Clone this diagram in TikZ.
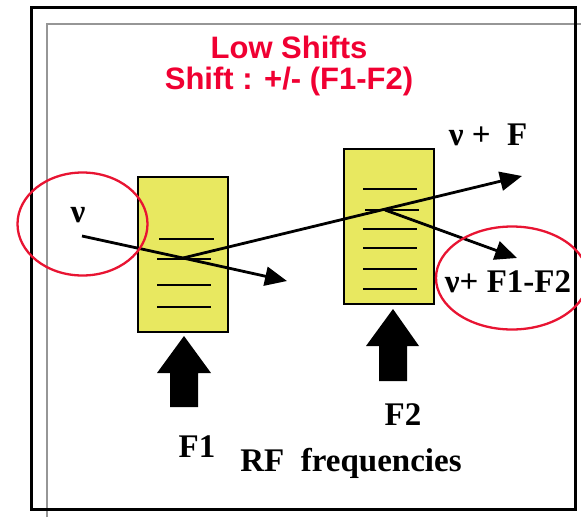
\documentclass[tikz,border=0pt]{standalone}
\usepackage{fontspec}
\setmainfont{Liberation Serif}
\newfontfamily\titlefont{Liberation Sans}
\usetikzlibrary{arrows.meta}
\definecolor{ttlred}{RGB}{240,0,50}
\definecolor{ringred}{RGB}{232,20,50}
\definecolor{boxyellow}{RGB}{232,232,96}
\definecolor{framegray}{RGB}{150,150,150}
\tikzset{
  filterbox/.style={draw=black, line width=2.2pt, fill=boxyellow},
  tickline/.style={line width=2.5pt},
  beam/.style={line width=2.8pt, -{Triangle[length=22pt,width=19pt]}},
  beamplain/.style={line width=2.8pt},
  ring/.style={draw=ringred, line width=2.3pt},
  fatarrow/.style={fill=black},
  lbl/.style={font=\bfseries\fontsize{33}{36}\selectfont, inner sep=0pt},
  ttl/.style={font=\titlefont\bfseries\fontsize{31}{36}\selectfont, text=ttlred, inner sep=0pt}
}
\begin{document}
\begin{tikzpicture}[x=1pt,y=-1pt]
\useasboundingbox (0,0) rectangle (581,517);
% frames
\draw[framegray, line width=2.6pt] (47,517) -- (47,24) -- (581,24);
\draw[black, line width=3pt] (31,7) rectangle (575,509);
% title
\node[ttl] (t1) at (289,47) {Low Shifts};
\node[ttl] (t2) at (289,81) {Shift : +/- (F1-F2)};
% boxes
\draw[filterbox] (138,177) rectangle (228,332);
\draw[filterbox] (344,149) rectangle (434,304);
\foreach \y/\a/\b in {239/159/214, 259/157/211, 285/157/211, 307/157/211}
  \draw[tickline] (\a,\y) -- (\b,\y);
\foreach \y/\a/\b in {189/363/417, 210/365/419, 229/363/417, 248/363/417, 269/363/417, 289/363/417}
  \draw[tickline] (\a,\y) -- (\b,\y);
% coordinates
\coordinate (nustart) at (82,236);
\coordinate (x1) at (183,258);
\coordinate (tip1) at (287,281);
\coordinate (x2) at (385,210);
\coordinate (tip2) at (522,176);
\coordinate (tip3) at (517,258);
% beams
\draw[beamplain] (nustart) -- (x1);
\draw[beam] (x1) -- (tip1);
\draw[beam] (x1) -- (tip2);
\draw[beam] (x2) -- (tip3);
% rings
\draw[ring] (82.5,224) ellipse [x radius=65, y radius=51.5];
\draw[ring] (512,278) ellipse [x radius=76, y radius=51.5];
% labels
\node[lbl] (nu) at (78,215) {ν};
\node[lbl] (nuF) at (488,135) {ν +\ \ F};
\node[lbl] (nuF12) at (508,282) {ν+ F1-F2};
\node[lbl] (f2) at (403,415) {F2};
\node[lbl] (f1) at (197,447) {F1};
\node[lbl] (rf) at (351,463) {RF\ \ frequencies};
% fat arrows
\fill[fatarrow] (184,336) -- (211,373) -- (198,373) -- (198,407) -- (170,407) -- (170,373) -- (157,373) -- cycle;
\fill[fatarrow] (393,309) -- (419,346) -- (407,346) -- (407,381) -- (379,381) -- (379,346) -- (366,346) -- cycle;
\end{tikzpicture}
\end{document}
